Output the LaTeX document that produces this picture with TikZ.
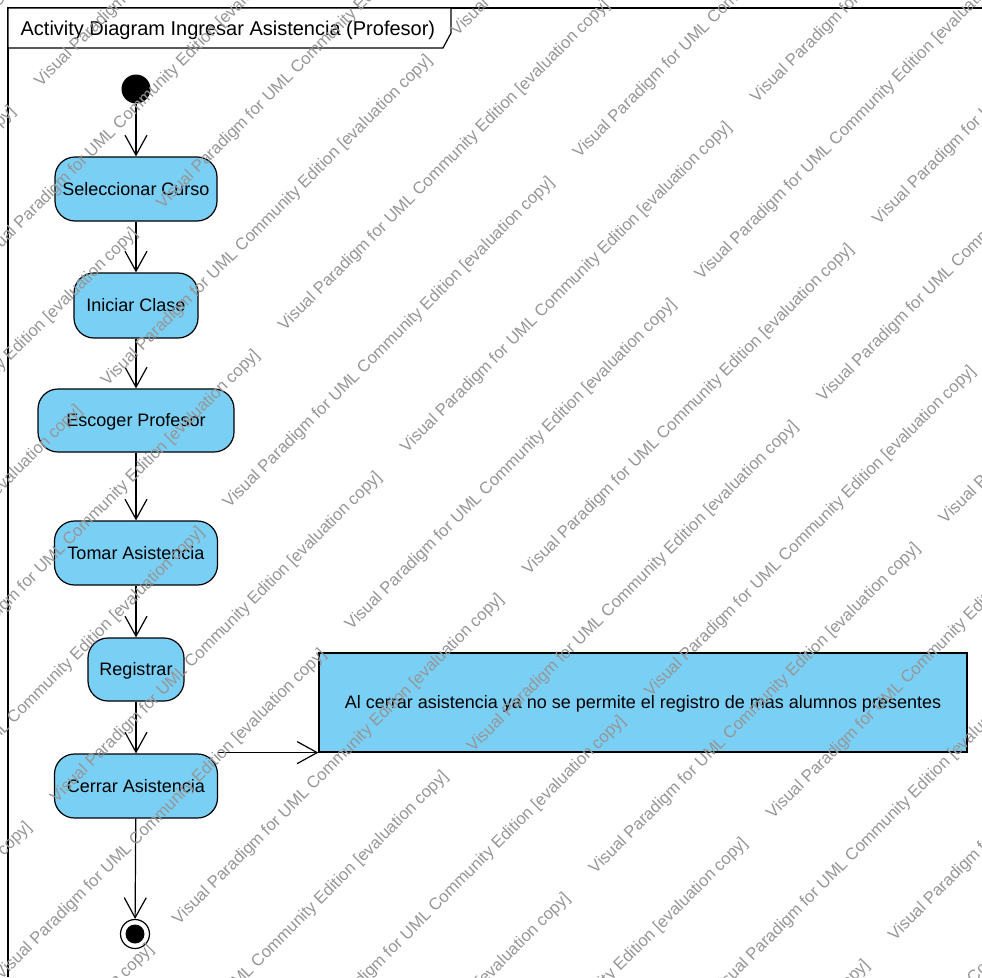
\documentclass[tikz,border=0pt]{standalone}
\usepackage{fontspec}
\setmainfont{Liberation Sans}
\usetikzlibrary{arrows.meta}
\definecolor{vpblue}{RGB}{122,207,245}
\definecolor{wmgray}{RGB}{150,150,150}

\begin{document}
\begin{tikzpicture}[x=1pt, y=-1pt, line width=1.2pt,
  act/.style={draw, fill=vpblue, rounded corners=20pt, inner sep=0pt,
    text height=12.9pt, text depth=0pt, font=\fontsize{18}{21}\selectfont},
  notebox/.style={draw, fill=vpblue, inner sep=0pt,
    text height=12.9pt, text depth=0pt, font=\fontsize{18}{21}\selectfont},
  flow/.style={-{Straight Barb[length=20pt,width=22pt]}},
  wm/.style={text=wmgray, font=\fontsize{16.7}{19}\selectfont, rotate=45,
    anchor=base west, inner sep=0pt},
]
\useasboundingbox (0,0) rectangle (982,977);
\fill[white] (0,0) rectangle (982,977);

% diagram frame and its name tab
\draw (8,977) -- (8,8) -- (982,8);
\draw[fill=white] (8,8) -- (451,8) -- (451,33) -- (443,48) -- (8,48) -- cycle;
\node[anchor=base west, inner sep=0pt, font=\fontsize{20}{24}\selectfont] (title) at (20,35.5)
  {Activity Diagram Ingresar Asistencia (Profesor)};

% initial and final nodes
\node[circle, fill=black, inner sep=0pt, minimum size=29pt] (start) at (136,89) {};
\node[circle, draw, fill=white, inner sep=0pt, minimum size=29pt] (end) at (135,934) {};
\node[circle, fill=black, inner sep=0pt, minimum size=19pt] (endc) at (end.center) {};

% actions
\node[act, minimum width=162pt, minimum height=64pt] (sel) at (136,189) {Seleccionar Curso};
\node[act, minimum width=124pt, minimum height=65pt] (ini) at (136,305.5) {Iniciar Clase};
\node[act, minimum width=196pt, minimum height=63pt] (esc) at (136,420.5) {Escoger Profesor};
\node[act, minimum width=163pt, minimum height=64pt] (tom) at (136,553) {Tomar Asistencia};
\node[act, minimum width=96pt, minimum height=63pt] (reg) at (136,669.5) {Registrar};
\node[act, minimum width=163pt, minimum height=64pt] (cer) at (136,786) {Cerrar Asistencia};

% note
\node[notebox, minimum width=648pt, minimum height=99pt] (note) at (643,702.5)
  {Al cerrar asistencia ya no se permite el registro de mas alumnos presentes};

% control flows
\draw[flow] (start) -- (sel);
\draw[flow] (sel) -- (ini);
\draw[flow] (ini) -- (esc);
\draw[flow] (esc) -- (tom);
\draw[flow] (tom) -- (reg);
\draw[flow] (reg) -- (cer);
\draw[flow] (cer) -- (end);
\draw[flow] (cer.north east |- note.south west) -- (note.south west);

% tiled evaluation watermark
\begin{scope}
\clip (0,0) rectangle (982,977);
\foreach \k in {-1,...,16}{
  \foreach \m in {-2,...,1}{
    \pgfmathsetmacro{\ws}{128+122*\k}
    \pgfmathsetmacro{\wt}{ifthenelse(mod(\k+100,2)==1,-280,-47)+700*\m}
    \node[wm] (wm-\k-\m) at ({(\ws+\wt)/2},{(\ws-\wt)/2})
      {Visual Paradigm for UML Community Edition [evaluation copy]};
  }
}
\end{scope}
\end{tikzpicture}
\end{document}
